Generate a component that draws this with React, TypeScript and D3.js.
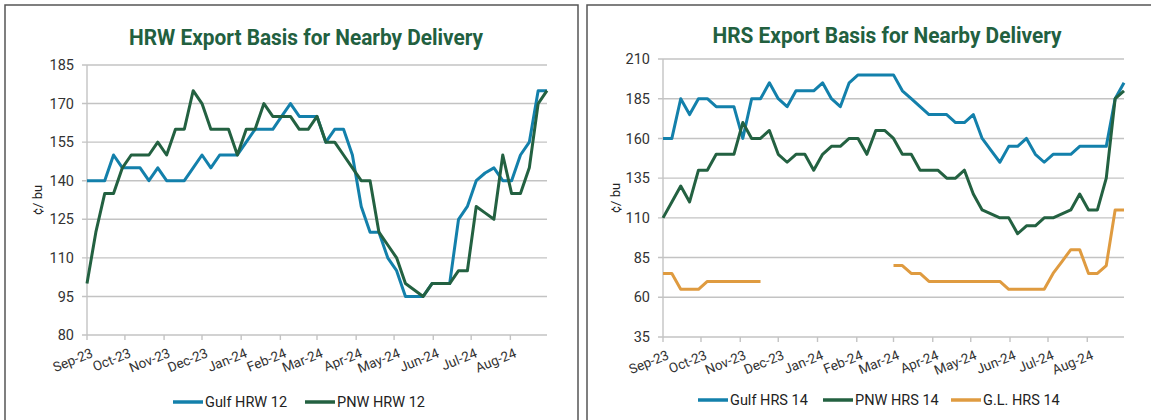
import * as d3 from 'd3'

// weekly observations, Sep 1 2023 .. Aug 30 2024
const WEEK_START = new Date(2023, 8, 1)
const WEEKS = d3.range(53).map(i => d3.timeDay.offset(WEEK_START, i * 7))

const HRW_Y_TICKS = [80, 95, 110, 125, 140, 155, 170, 185]
const HRS_Y_TICKS = [35, 60, 85, 110, 135, 160, 185, 210]

const GULF_HRW = [
  140, 140, 140, 150, 145, 145, 145, 140, 145, 140,
  140, 140, 145, 150, 145, 150, 150, 150, 155, 160,
  160, 160, 165, 170, 165, 165, 165, 155, 160, 160,
  150, 130, 120, 120, 110, 105, 95, 95, 95, 100,
  100, 100, 125, 130, 140, 143, 145, 140, 140, 150,
  155, 175, 175
]
const PNW_HRW = [
  100, 120, 135, 135, 145, 150, 150, 150, 155, 150,
  160, 160, 175, 170, 160, 160, 160, 150, 160, 160,
  170, 165, 165, 165, 160, 160, 165, 155, 155, 150,
  145, 140, 140, 120, 115, 110, 100, 97.5, 95, 100,
  100, 100, 105, 105, 130, 127.5, 125, 150, 135, 135,
  145, 170, 175
]

const GULF_HRS = [
  160, 160, 185, 175, 185, 185, 180, 180, 180, 160,
  185, 185, 195, 185, 180, 190, 190, 190, 195, 185,
  180, 195, 200, 200, 200, 200, 200, 190, 185, 180,
  175, 175, 175, 170, 170, 175, 160, 152.5, 145, 155,
  155, 160, 150, 145, 150, 150, 150, 155, 155, 155,
  155, 185, 195
]
const PNW_HRS = [
  110, 120, 130, 120, 140, 140, 150, 150, 150, 170,
  160, 160, 165, 150, 145, 150, 150, 140, 150, 155,
  155, 160, 160, 150, 165, 165, 160, 150, 150, 140,
  140, 140, 135, 135, 140, 125, 115, 112.5, 110, 110,
  100, 105, 105, 110, 110, 112.5, 115, 125, 115, 115,
  135, 185, 190
]
const GL_HRS = [
  75, 75, 65, 65, 65, 70, 70, 70, 70, 70,
  70, 70, null, null, null, null, null, null, null, null,
  null, null, null, null, null, null, 80, 80, 75, 75,
  70, 70, 70, 70, 70, 70, 70, 70, 70, 65,
  65, 65, 65, 65, 75, 82.5, 90, 90, 75, 75,
  80, 115, 115
]

const BLUE = '#1380ab'
const GREEN = '#236141'
const ORANGE = '#df9b40'
const TITLE_GREEN = '#22603f'
const GRID = '#c3c3c3'
const FONT = 'Roboto, "Noto Sans", sans-serif'

type Series = { name: string, values: (number | null)[], color: string, legendX: number }

type ChartProps = {
  title: string
  titleX: number
  titleY: number
  titleW: number
  panelX: number
  panelW: number
  left: number
  right: number
  top: number
  bottom: number
  yTicks: number[]
  yLabelX: number
  legendY: number
  series: Series[]
}

function Chart(p: ChartProps) {
  const x = d3.scaleTime()
    .domain([WEEKS[0], WEEKS[WEEKS.length - 1]])
    .range([p.left, p.right])
  const y = d3.scaleLinear()
    .domain([p.yTicks[0], p.yTicks[p.yTicks.length - 1]])
    .range([p.bottom, p.top])
  const months = d3.timeMonth.range(WEEKS[0], WEEKS[WEEKS.length - 1])
  const fmt = d3.timeFormat('%b-%y')

  const line = d3.line<number | null>()
    .defined(d => d != null)
    .x((_, i) => x(WEEKS[i]))
    .y(d => y(d as number))

  return (
    <g>
      <rect x={p.panelX} y={5} width={p.panelW} height={430}
        fill="white" stroke="#555" strokeWidth={1.5} />
      <text x={p.titleX} y={p.titleY} textAnchor="middle" fontFamily={FONT}
        fontWeight="bold" fontSize={22} fill={TITLE_GREEN}
        textLength={p.titleW} lengthAdjust="spacingAndGlyphs">{p.title}</text>

      {/* gridlines + y ticks */}
      {p.yTicks.map(t => (
        <g key={t}>
          <line x1={p.left - 5} x2={p.right} y1={y(t)} y2={y(t)}
            stroke={GRID} strokeWidth={1.4} />
          <text x={p.left - 13} y={y(t)} dy="0.35em" textAnchor="end"
            fontFamily={FONT} fontSize={14.5} fill="#333">{t}</text>
        </g>
      ))}
      <line x1={p.left} x2={p.left} y1={p.top} y2={p.bottom} stroke={GRID} strokeWidth={1.4} />

      {/* x axis */}
      {months.map(m => (
        <g key={+m} transform={`translate(${x(m)},${p.bottom})`}>
          <line y1={0} y2={5} stroke={GRID} strokeWidth={1.4} />
          <text transform="translate(3,12) rotate(-22)" textAnchor="end"
            dominantBaseline="hanging" fontFamily={FONT} fontSize={13.5}
            fill="#333">{fmt(m)}</text>
        </g>
      ))}

      <text transform={`translate(${p.yLabelX},${(p.top + p.bottom) / 2}) rotate(-90)`}
        textAnchor="middle" fontFamily={FONT} fontSize={13} fill="#222">¢/ bu</text>

      {p.series.map(s => (
        <path key={s.name} d={line(s.values) || ''} fill="none" stroke={s.color}
          strokeWidth={3} strokeLinejoin="round" />
      ))}

      {/* legend */}
      {p.series.map(s => (
        <g key={s.name} transform={`translate(${s.legendX},${p.legendY})`}>
          <line x1={0} x2={30} stroke={s.color} strokeWidth={3.5} />
          <text x={32} dy="0.35em" fontFamily={FONT} fontSize={14.5} fill="#222">{s.name}</text>
        </g>
      ))}
    </g>
  )
}

export default function App() {
  return (
    <svg width={1151} height={420} style={{ position: 'fixed', left: 0, top: 0, background: 'white' }}>
      <rect width={1151} height={420} fill="white" />
      <Chart
        title="HRW Export Basis for Nearby Delivery"
        titleX={306} titleY={45} titleW={354}
        panelX={5} panelW={573}
        left={87} right={547} top={65} bottom={335}
        yTicks={HRW_Y_TICKS} yLabelX={42} legendY={402}
        series={[
          { name: 'Gulf HRW 12', values: GULF_HRW, color: BLUE, legendX: 173 },
          { name: 'PNW HRW 12', values: PNW_HRW, color: GREEN, legendX: 305 }
        ]}
      />
      <Chart
        title="HRS Export Basis for Nearby Delivery"
        titleX={887} titleY={43} titleW={349}
        panelX={587} panelW={580}
        left={663} right={1124} top={59} bottom={337}
        yTicks={HRS_Y_TICKS} yLabelX={620} legendY={400}
        series={[
          { name: 'Gulf HRS 14', values: GULF_HRS, color: BLUE, legendX: 698 },
          { name: 'PNW HRS 14', values: PNW_HRS, color: GREEN, legendX: 823 },
          { name: 'G.L. HRS 14', values: GL_HRS, color: ORANGE, legendX: 951 }
        ]}
      />
    </svg>
  )
}
